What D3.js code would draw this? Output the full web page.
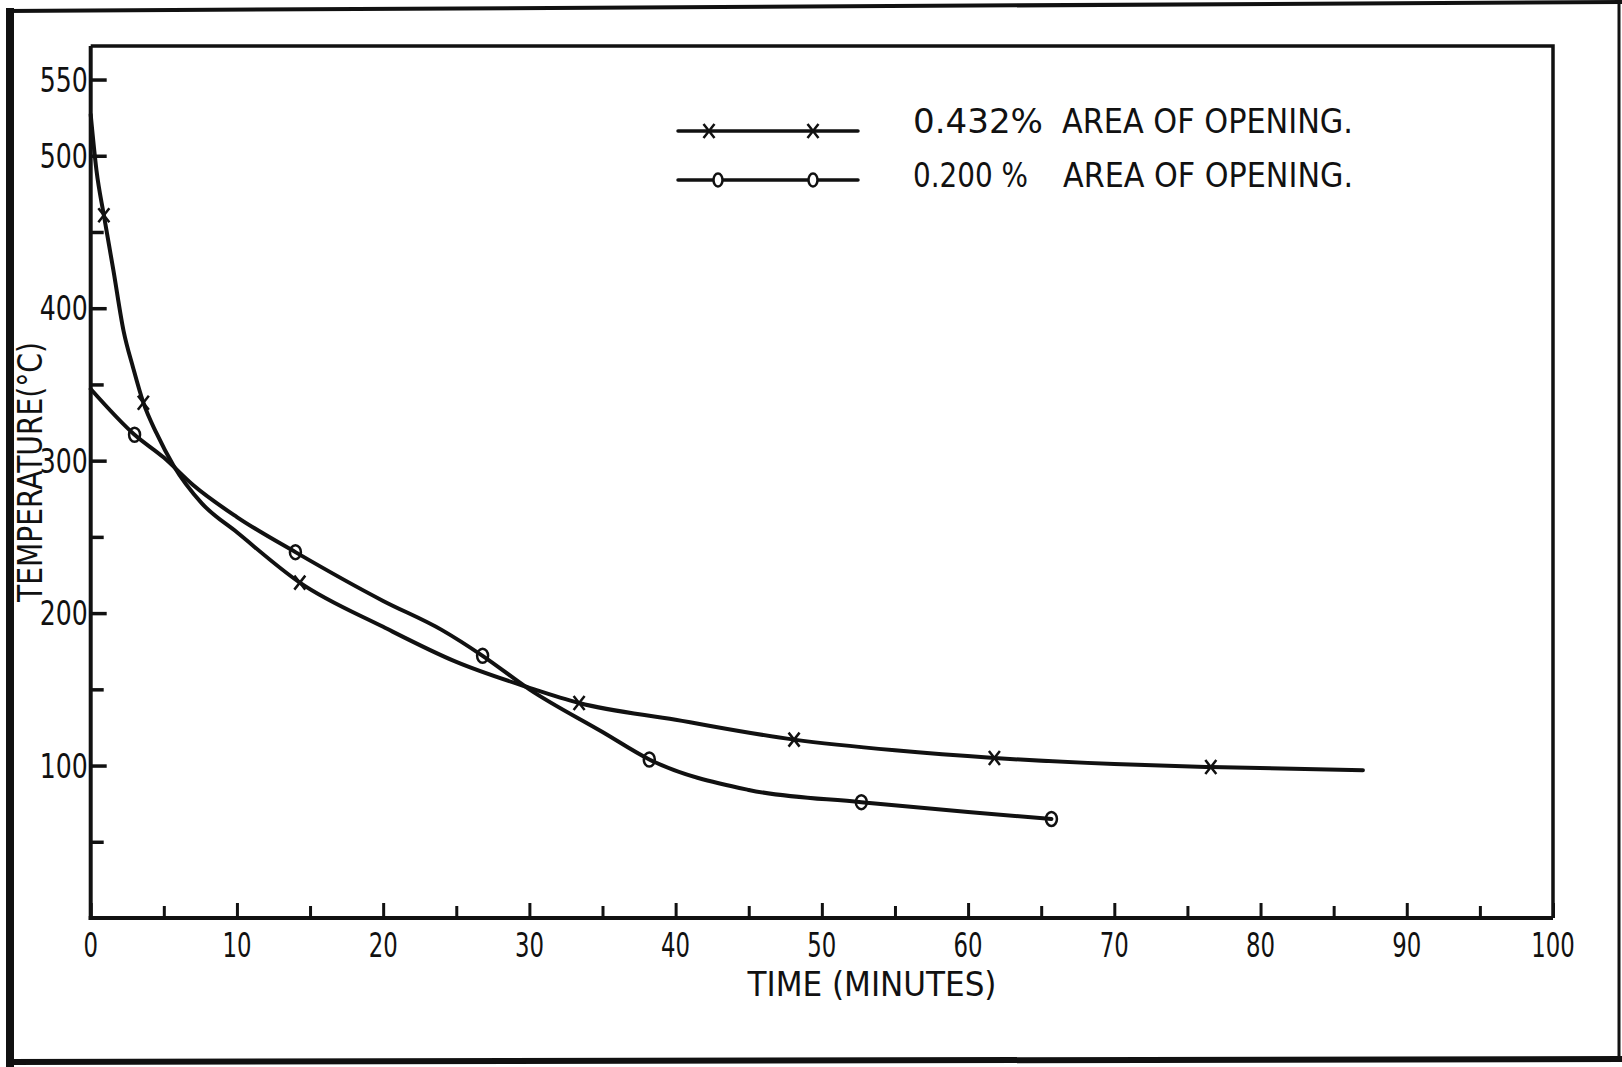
<!DOCTYPE html>
<html>
<head>
<meta charset="utf-8">
<script src="https://cdn.jsdelivr.net/npm/d3@7"></script>
<style>
  html, body { margin: 0; padding: 0; background: #fff; }
  svg { display: block; }
  text { font-family: 'Liberation Sans Narrow', 'DejaVu Sans Condensed', 'Roboto Condensed', 'Liberation Sans', sans-serif; fill: #111; }
</style>
</head>
<body>
<script>
// ---------- data ----------
const xTickValues = [0, 5, 10, 15, 20, 25, 30, 35, 40, 45, 50, 55, 60, 65, 70, 75, 80, 85, 90, 95, 100];
const xTickLabels = [0, 10, 20, 30, 40, 50, 60, 70, 80, 90, 100];
const yTickValues = [50, 100, 150, 200, 250, 300, 350, 400, 450, 500, 550];
const yTickLabels = [100, 200, 300, 400, 500, 550];

const seriesNames = ["0.432%", "0.200 %"];
const legendSuffix = "AREA OF OPENING.";

// 0.432 % opening : marker points (x)
const timeA = [0.9, 3.6, 14.3, 33.4, 48.1, 61.8, 76.6];
const tempA = [461, 338, 220, 141, 117, 105, 99];
// 0.432 % opening : traced curve
const curveTimeA = [0, 0.4, 0.9, 1.55, 2.25, 2.9, 3.6, 4.5, 5.65, 7.6, 10, 14.3, 20, 25, 30, 33.4, 40, 48.1, 55, 61.8, 70, 76.6, 87];
const curveTempA = [527, 490, 461, 425, 385, 361, 338, 318, 297, 272, 253, 220, 191, 168, 151, 141, 130, 117, 110, 105, 101, 99, 97];

// 0.200 % opening : marker points (o)
const timeB = [3.0, 14.0, 26.8, 38.2, 52.7, 65.7];
const tempB = [317, 240, 172, 104, 76, 65];
// 0.200 % opening : traced curve
const curveTimeB = [0, 3.0, 5, 7, 10, 14.0, 20, 24, 26.8, 30, 35, 38.2, 45, 52.7, 60, 65.7];
const curveTempB = [347, 317, 302, 284, 263, 240, 208, 189, 172, 150, 122, 104, 84, 76, 69.5, 65];

// ---------- layout ----------
const W = 1622, H = 1067;
const x = d3.scaleLinear().domain([0, 100]).range([90.7, 1553]);
const y = d3.scaleLinear().domain([0, 572]).range([918, 46]);
const INK = "#111";

const svg = d3.select("body").append("svg").attr("width", W).attr("height", H);
svg.append("rect").attr("width", W).attr("height", H).attr("fill", "#fff");

// outer scanned border
const border = svg.append("g").attr("stroke", INK).attr("fill", "none");
border.append("line").attr("x1", 10).attr("y1", 8).attr("x2", 10).attr("y2", H).attr("stroke-width", 8);
border.append("line").attr("x1", 6).attr("y1", 11).attr("x2", 1622).attr("y2", 2).attr("stroke-width", 4);
border.append("line").attr("x1", 1619).attr("y1", 0).attr("x2", 1619).attr("y2", 1061).attr("stroke-width", 3);
border.append("line").attr("x1", 9).attr("y1", 1062).attr("x2", 1622).attr("y2", 1059).attr("stroke-width", 6);

// plot frame (top & right)
svg.append("path")
  .attr("d", `M${x(0)},${y(572)} L${x(100)},${y(572)} L${x(100)},${y(0)}`)
  .attr("fill", "none").attr("stroke", INK).attr("stroke-width", 3.5);

// axes lines
svg.append("line").attr("x1", x(0)).attr("x2", x(0)).attr("y1", y(572)).attr("y2", y(0) + 2)
  .attr("stroke", INK).attr("stroke-width", 4);
svg.append("line").attr("x1", x(0) - 2).attr("x2", x(100)).attr("y1", y(0)).attr("y2", y(0))
  .attr("stroke", INK).attr("stroke-width", 4);

// y ticks (inward)
const yAxis = d3.axisRight(y).tickValues(yTickValues).tickSize(0).tickFormat("");
const gy = svg.append("g").attr("transform", `translate(${x(0)},0)`).call(yAxis);
gy.select(".domain").remove();
gy.selectAll(".tick line")
  .attr("x2", d => (yTickLabels.includes(d) ? 16 : 13))
  .attr("stroke", INK).attr("stroke-width", 3.5);

// y tick labels
svg.append("g").selectAll("text").data(yTickLabels).join("text")
  .attr("x", x(0) - 3).attr("y", d => y(d) + 12)
  .attr("text-anchor", "end").attr("font-size", 33)
  .attr("textLength", d => String(d).length * 16).attr("lengthAdjust", "spacingAndGlyphs")
  .text(d => d);

// x ticks (inward)
const xAxis = d3.axisTop(x).tickValues(xTickValues).tickSize(0).tickFormat("");
const gx = svg.append("g").attr("transform", `translate(0,${y(0)})`).call(xAxis);
gx.select(".domain").remove();
gx.selectAll(".tick line")
  .attr("y2", d => (d % 10 === 0 ? -15 : -12))
  .attr("stroke", INK).attr("stroke-width", 3);

// x tick labels
svg.append("g").selectAll("text").data(xTickLabels).join("text")
  .attr("x", d => x(d)).attr("y", 957)
  .attr("text-anchor", "middle").attr("font-size", 34)
  .attr("textLength", d => String(d).length * 14.5).attr("lengthAdjust", "spacingAndGlyphs")
  .text(d => d);

// axis titles
svg.append("text").attr("x", 872).attr("y", 996).attr("text-anchor", "middle")
  .attr("font-size", 33).attr("textLength", 249).attr("lengthAdjust", "spacingAndGlyphs")
  .text("TIME  (MINUTES)");
svg.append("text").attr("transform", "translate(42,472) rotate(-90)").attr("text-anchor", "middle")
  .attr("font-size", 33).attr("textLength", 260).attr("lengthAdjust", "spacingAndGlyphs")
  .text("TEMPERATURE(°C)");

// curves
const line = d3.line().x(d => x(d[0])).y(d => y(d[1])).curve(d3.curveMonotoneX);
const curveA = curveTimeA.map((t, i) => [t, curveTempA[i]]);
const curveB = curveTimeB.map((t, i) => [t, curveTempB[i]]);
svg.append("path").attr("d", line(curveA)).attr("fill", "none").attr("stroke", INK)
  .attr("stroke-width", 4).attr("stroke-linecap", "round");
svg.append("path").attr("d", line(curveB)).attr("fill", "none").attr("stroke", INK)
  .attr("stroke-width", 4).attr("stroke-linecap", "round");

// markers
function crossPath(cx, cy) {
  const a = 5.5, b = 7;
  return `M${cx - a},${cy - b} L${cx + a},${cy + b} M${cx + a},${cy - b} L${cx - a},${cy + b}`;
}
const ptsA = timeA.map((t, i) => [t, tempA[i]]);
const ptsB = timeB.map((t, i) => [t, tempB[i]]);
svg.append("g").selectAll("path").data(ptsA).join("path")
  .attr("d", d => crossPath(x(d[0]), y(d[1])))
  .attr("stroke", INK).attr("stroke-width", 2.5).attr("fill", "none");
svg.append("g").selectAll("ellipse").data(ptsB).join("ellipse")
  .attr("cx", d => x(d[0])).attr("cy", d => y(d[1])).attr("rx", 5.5).attr("ry", 7)
  .attr("stroke", INK).attr("stroke-width", 2.5).attr("fill", "none");

// legend
const lg = svg.append("g");
const legendRows = [131, 180];
legendRows.forEach((ly) => {
  lg.append("line").attr("x1", 678).attr("x2", 858).attr("y1", ly).attr("y2", ly)
    .attr("stroke", INK).attr("stroke-width", 3.5).attr("stroke-linecap", "round");
});
[709, 813].forEach(mx => {
  lg.append("path").attr("d", crossPath(mx, legendRows[0])).attr("stroke", INK).attr("stroke-width", 2.5);
});
[718, 813].forEach(mx => {
  lg.append("ellipse").attr("cx", mx).attr("cy", legendRows[1]).attr("rx", 4.5).attr("ry", 6.5)
    .attr("stroke", INK).attr("stroke-width", 2.5).attr("fill", "#fff");
});
const legendLabelW = [130, 115];
const legendSuffixX = [1062, 1063];
const legendSuffixW = [291, 290];
const legendBase = [133, 187];
seriesNames.forEach((name, i) => {
  lg.append("text").attr("x", 913).attr("y", legendBase[i])
    .attr("font-size", 33).attr("textLength", legendLabelW[i]).attr("lengthAdjust", "spacingAndGlyphs")
    .text(name);
  lg.append("text").attr("x", legendSuffixX[i]).attr("y", legendBase[i])
    .attr("font-size", 33).attr("textLength", legendSuffixW[i]).attr("lengthAdjust", "spacingAndGlyphs")
    .text(legendSuffix);
});
</script>
</body>
</html>
